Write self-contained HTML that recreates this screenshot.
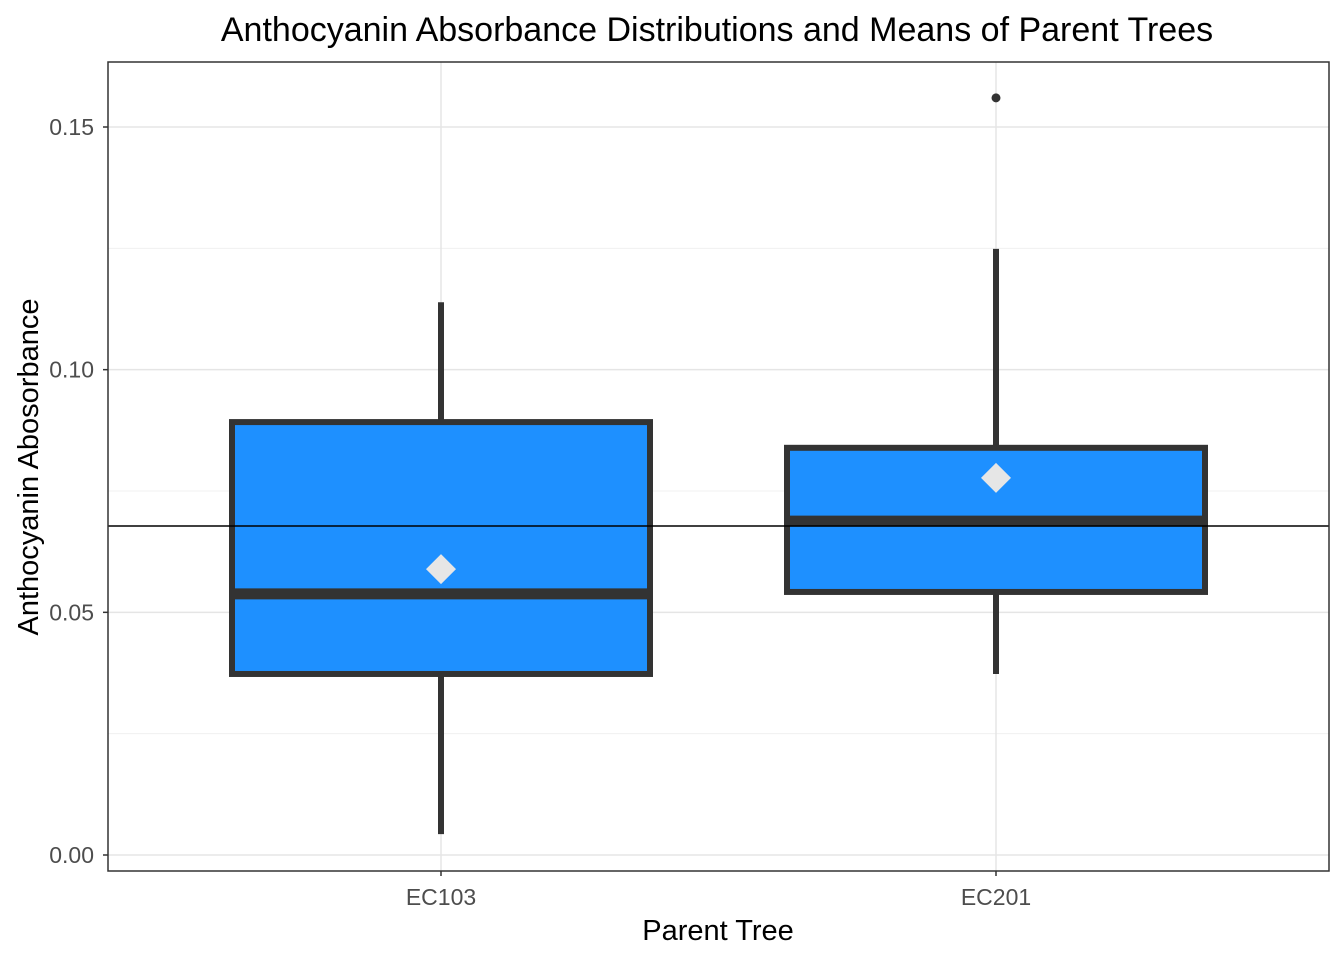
<!DOCTYPE html>
<html><head><meta charset="utf-8"><style>
body{margin:0;background:#fff}
svg{display:block;font-family:"Liberation Sans",Arial,sans-serif}
</style></head><body>
<svg id="chart" width="1344" height="960"></svg>
<script>
const categories = ["EC103","EC201"];
const q1 = [0.0373, 0.0542];
const median = [0.0538, 0.0688];
const q3 = [0.0892, 0.0839];
const whiskerLow = [0.0043, 0.0373];
const whiskerHigh = [0.1139, 0.1249];
const means = [0.0589, 0.0777];
const outliers = [[], [0.156]];
const overallMean = 0.0678;
const yTicks = [0, 0.05, 0.10, 0.15];
const yTickLabels = ["0.00","0.05","0.10","0.15"];
const yMinor = [0.025, 0.075, 0.125];

const NS="http://www.w3.org/2000/svg";
const svg=document.getElementById('chart');
const P={l:108,r:1329,t:62,b:871};
const y=v=>855-v*(855-127)/0.15;
const x=i=>441+i*(996-441);
const halfW=209;
function el(t,a,name){const e=document.createElementNS(NS,t);for(const k in a)e.setAttribute(k,a[k]);


svg.appendChild(e);return e;}
el('rect',{x:P.l,y:P.t,width:P.r-P.l,height:P.b-P.t,fill:'#fff'},'plot-panel');
yMinor.forEach(v=>el('line',{x1:P.l,x2:P.r,y1:y(v),y2:y(v),stroke:'#f0f0f0','stroke-width':1},'minor-gridline'));
yTicks.forEach(v=>el('line',{x1:P.l,x2:P.r,y1:y(v),y2:y(v),stroke:'#e5e5e5','stroke-width':1.5},'major-gridline'));
categories.forEach((c,i)=>el('line',{x1:x(i),x2:x(i),y1:P.t,y2:P.b,stroke:'#e5e5e5','stroke-width':1.5},'x-gridline'));
categories.forEach((c,i)=>{
  el('line',{x1:x(i),x2:x(i),y1:y(q3[i]),y2:y(whiskerHigh[i]),stroke:'#333','stroke-width':6},'upper-whisker-'+c);
  el('line',{x1:x(i),x2:x(i),y1:y(q1[i]),y2:y(whiskerLow[i]),stroke:'#333','stroke-width':6},'lower-whisker-'+c);
  el('rect',{x:x(i)-halfW,y:y(q3[i]),width:2*halfW,height:y(q1[i])-y(q3[i]),fill:'#1e90ff',stroke:'#333','stroke-width':6},'box-'+c);
  el('line',{x1:x(i)-halfW,x2:x(i)+halfW,y1:y(median[i]),y2:y(median[i]),stroke:'#333','stroke-width':11},'median-'+c);
  outliers[i].forEach(v=>el('circle',{cx:x(i),cy:y(v),r:4.5,fill:'#333'},'outlier-'+c));
});
el('line',{x1:P.l,x2:P.r,y1:y(overallMean),y2:y(overallMean),stroke:'#000','stroke-width':1.5},'overall-mean-line');
categories.forEach((c,i)=>{const cx=x(i),cy=y(means[i]),s=15;
  el('polygon',{points:`${cx},${cy-s} ${cx+s},${cy} ${cx},${cy+s} ${cx-s},${cy}`,fill:'#e6e6e6'},'mean-marker-'+c);});
el('rect',{x:P.l,y:P.t,width:P.r-P.l,height:P.b-P.t,fill:'none',stroke:'#333','stroke-width':1.5},'panel-border');
yTicks.forEach((v,i)=>{
  el('line',{x1:P.l-5,x2:P.l,y1:y(v),y2:y(v),stroke:'#333','stroke-width':1.5},'y-tick');
  const t=el('text',{x:94,y:y(v)+8,'text-anchor':'end','font-size':23,fill:'#4d4d4d'},'y-tick-label');t.textContent=yTickLabels[i];
});
categories.forEach((c,i)=>{
  el('line',{x1:x(i),x2:x(i),y1:P.b,y2:P.b+5,stroke:'#333','stroke-width':1.5},'x-tick');
  const t=el('text',{x:x(i),y:905,'text-anchor':'middle','font-size':23,fill:'#4d4d4d'},'x-tick-label');t.textContent=c;
});
let t=el('text',{x:718,y:940,'text-anchor':'middle','font-size':29,fill:'#000'},'x-axis-title');t.textContent='Parent Tree';
t=el('text',{x:38,y:467,'text-anchor':'middle','font-size':29,fill:'#000',transform:'rotate(-90 38 467)'},'y-axis-title');t.textContent='Anthocyanin Abosorbance';
t=el('text',{x:717,y:41,'text-anchor':'middle','font-size':34,fill:'#000'},'chart-title');t.textContent='Anthocyanin Absorbance Distributions and Means of Parent Trees';
</script>
</body></html>
